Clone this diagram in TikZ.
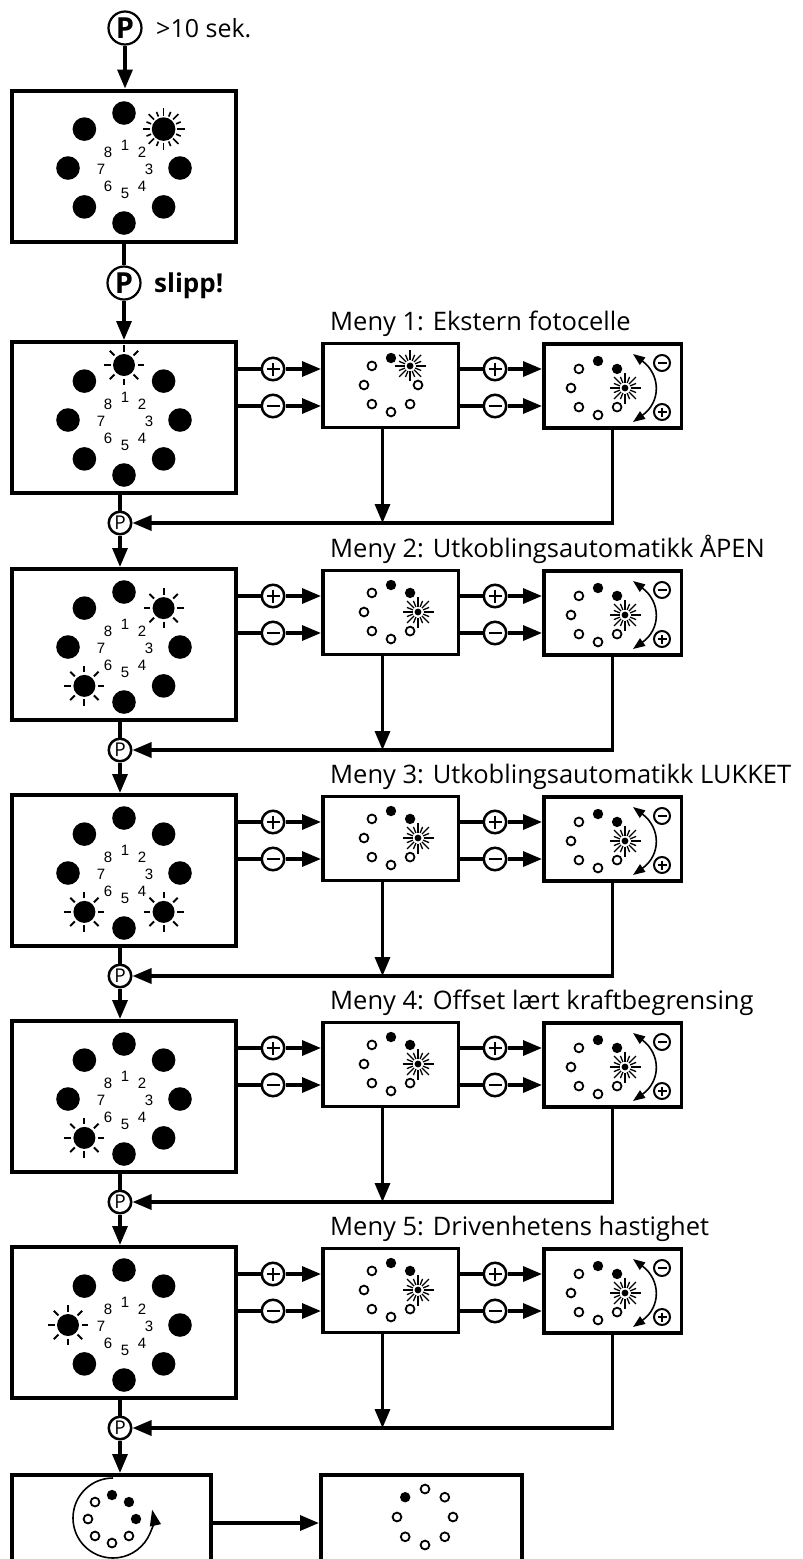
\documentclass[tikz,border=0pt]{standalone}
\usepackage{fontspec}
\setmainfont{Open Sans}
\newfontfamily\numfont{Liberation Sans}
\usetikzlibrary{arrows.meta,calc}

\newcommand\sparkle[2]{%
  \fill (#1,#2) circle[radius=3.4pt];
  \foreach \a in {0,45,...,315}{\draw[line width=1.3pt] (#1,#2) ++(\a:5.5) -- ++(\a:10);}
  \foreach \a in {22.5,67.5,...,337.5}{\draw[line width=1.3pt] (#1,#2) ++(\a:5.5) -- ++(\a:6.5);}
}
\newcommand\bigring[5]{% cx cy star1 star2 prefix
  \foreach \k in {1,...,8}{%
    \pgfmathsetmacro\px{#1+56*sin(45*(\k-1))}%
    \pgfmathsetmacro\py{#2-55*cos(45*(\k-1))}%
    \pgfmathtruncatemacro\isstar{or(\k==#3,\k==#4)}%
    \ifnum\isstar=1
      \fill (\px,\py) circle[radius=11pt];
      \foreach \a in {0,45,...,315}{\draw[line width=2pt] (\px,\py) ++(\a:13.5) -- ++(\a:6.5);}
    \else
      \fill (\px,\py) circle[radius=11.8pt];
    \fi
    \node[numtxt] (#5n\k) at ({#1+1+24*sin(45*(\k-1))},{#2+1.5-24*cos(45*(\k-1))}) {\k};
  }%
}
\newcommand\sring[4]{% cx cy R list
  \foreach \k/\t in #4{%
    \pgfmathsetmacro\px{#1+#3*sin(45*(\k-1))}%
    \pgfmathsetmacro\py{#2-#3*cos(45*(\k-1))}%
    \if\t f\fill (\px,\py) circle[radius=5.2pt];\fi
    \if\t o\draw[line width=1.8pt] (\px,\py) circle[radius=4.4pt];\fi
    \if\t s\sparkle{\px}{\py}\fi
  }%
}
\def\cfgA{1/f,2/s,3/o,4/o,5/o,6/o,7/o,8/o}
\def\cfgB{1/f,2/f,3/s,4/o,5/o,6/o,7/o,8/o}
\def\cfgC{1/f,2/f,3/f,4/o,5/o,6/o,7/o,8/o}
\def\cfgD{1/o,2/o,3/o,4/o,5/o,6/o,7/o,8/f}

\begin{document}
\begin{tikzpicture}[x=1pt,y=-1pt,
  bigbox/.style={draw,line width=4pt,minimum width=224pt,minimum height=151pt,inner sep=0pt},
  smallbox/.style={draw,line width=3.5pt,inner sep=0pt,minimum height=84pt},
  conn/.style={line width=3.3pt,-{Triangle[length=19pt,width=15pt]}},
  plain/.style={line width=3.3pt},
  pbig/.style={circle,draw,line width=2.2pt,minimum size=33pt,inner sep=0pt,font=\bfseries\fontsize{29}{29}\selectfont},
  psmall/.style={circle,draw,line width=2.5pt,minimum size=22.5pt,inner sep=0pt,font=\fontsize{19}{19}\selectfont},
  numtxt/.style={font=\numfont\fontsize{15}{15}\selectfont,inner sep=0pt},
  title/.style={font=\fontsize{25.5}{25.5}\selectfont,inner sep=0pt,anchor=base west},
  pmc/.style={circle,draw,line width=2.5pt,minimum size=22.5pt,inner sep=0pt,fill=white},
  plusnode/.style={pmc,path picture={\draw[line width=1.4pt]
      ($(path picture bounding box.center)+(-6.5,0)$) -- ($(path picture bounding box.center)+(6.5,0)$)
      ($(path picture bounding box.center)+(0,-6.5)$) -- ($(path picture bounding box.center)+(0,6.5)$);}},
  minusnode/.style={pmc,path picture={\draw[line width=1.4pt]
      ($(path picture bounding box.center)+(-6.5,0)$) -- ($(path picture bounding box.center)+(6.5,0)$);}},
  pms/.style={circle,draw,line width=2pt,minimum size=16pt,inner sep=0pt,fill=white},
  plussmall/.style={pms,path picture={\draw[line width=1.2pt]
      ($(path picture bounding box.center)+(-4.5,0)$) -- ($(path picture bounding box.center)+(4.5,0)$)
      ($(path picture bounding box.center)+(0,-4.5)$) -- ($(path picture bounding box.center)+(0,4.5)$);}},
  minussmall/.style={pms,path picture={\draw[line width=1.2pt]
      ($(path picture bounding box.center)+(-4.5,0)$) -- ($(path picture bounding box.center)+(4.5,0)$);}},
  thinarrow/.style={line width=1.6pt}
]
\useasboundingbox (0,0) rectangle (803,1559);
\fill[white] (0,0) rectangle (803,1559);
\clip (0,0) rectangle (803,1559);

% top
\node[pbig] (p0) at (125,28) {P};
\node[font=\fontsize{25}{25}\selectfont,inner sep=0pt,anchor=base west] (t0) at (156,37) {>10 sek.};
\node[bigbox] (b0) at (124,166) {};
\bigring{124}{168}{0}{0}{z}
\foreach \a in {0,45,...,315}{\draw[line width=1.6pt] (163.6,129) ++(\a:13.5) -- ++(\a:7.5);}
\foreach \a in {22.5,67.5,...,337.5}{\draw[line width=1.6pt] (163.6,129) ++(\a:13.5) -- ++(\a:5);}
\draw[conn] (p0) -- (p0 |- b0.north);
\node[pbig] (p00) at (124,283) {P};
\node[font=\bfseries\fontsize{26}{26}\selectfont,inner sep=0pt,anchor=base west] (t00) at (154,292) {slipp!};
\draw[plain] (p00 |- b0.south) -- (p00);

% menus
\foreach \i/\T/\sa/\sb/\ttl in {
  1/340/1/0/{Meny 1: Ekstern fotocelle},
  2/567/2/6/{Meny 2: Utkoblingsautomatikk ÅPEN},
  3/793/4/6/{Meny 3: Utkoblingsautomatikk LUKKET},
  4/1019/6/0/{Meny 4: Offset lært kraftbegrensing},
  5/1245/7/0/{Meny 5: Drivenhetens hastighet}}{
  \node[bigbox] (b\i) at (124,\T+77.5) {};
  \bigring{124}{\T+80}{\sa}{\sb}{m\i}
  \node[smallbox,minimum width=135.5pt] (sa\i) at (390.5,\T+45.5) {};
  \node[smallbox,minimum width=137.5pt] (sb\i) at (612.5,\T+46) {};
  \node[title] (t\i) at (330,\T-10) {\ttl};
  \ifnum\i=1 \sring{391}{\T+45}{27}{\cfgA}\else \sring{391}{\T+45}{27}{\cfgB}\fi
  \sring{598}{\T+48}{27}{\cfgB}
  \draw[thinarrow,{Triangle[length=12pt,width=9pt]}-{Triangle[length=12pt,width=9pt]}]
     (633,\T+14) .. controls (661,\T+35) and (661,\T+62) .. (633,\T+82);
  \node[minussmall] (cm\i) at (662,\T+23) {};
  \node[plussmall] (cp\i) at (662,\T+72) {};
  \node[plusnode] (pa\i) at (273,\T+29) {};
  \node[minusnode] (ma\i) at (273,\T+66) {};
  \node[plusnode] (pb\i) at (495,\T+29) {};
  \node[minusnode] (mb\i) at (495,\T+66) {};
  \draw[plain] (b\i.east |- pa\i) -- (pa\i);
  \draw[conn] (pa\i) -- (sa\i.west |- pa\i);
  \draw[plain] (b\i.east |- ma\i) -- (ma\i);
  \draw[conn] (ma\i) -- (sa\i.west |- ma\i);
  \draw[plain] (sa\i.east |- pb\i) -- (pb\i);
  \draw[conn] (pb\i) -- (sb\i.west |- pb\i);
  \draw[plain] (sa\i.east |- mb\i) -- (mb\i);
  \draw[conn] (mb\i) -- (sb\i.west |- mb\i);
  \node[psmall] (q\i) at (120,\T+183) {P};
  \draw[plain] (q\i |- b\i.south) -- (q\i);
  \draw[conn] ([xshift=-8pt]sa\i.south) -- ([xshift=-8pt]sa\i.south |- q\i);
  \draw[conn] (sb\i.south) -- (sb\i.south |- q\i) -- (q\i);
}
\draw[conn] (p00) -- (p00 |- b1.north);
\foreach \i/\j in {1/2,2/3,3/4,4/5}{\draw[conn] (q\i) -- (q\i |- b\j.north);}

% final
\node[bigbox,minimum width=199pt,minimum height=96pt] (fb1) at (111.5,1523) {};
\node[bigbox,minimum width=201pt,minimum height=96pt] (fb2) at (421.5,1523) {};
\draw[conn] (q5) -- (q5 |- fb1.north);
\draw[conn] (fb1) -- (fb2);
\sring{112}{1519}{24}{\cfgC}
\sring{425}{1517}{28}{\cfgD}
\draw[thinarrow,-{Triangle[length=16pt,width=11pt]}] (113,1478) arc[start angle=-90,end angle=-372,radius=40];
\end{tikzpicture}
\end{document}
